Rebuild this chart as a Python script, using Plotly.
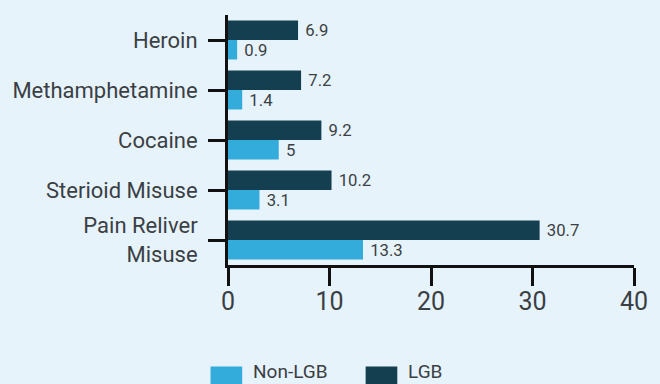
import plotly.graph_objects as go

categories = ["Heroin", "Methamphetamine", "Cocaine", "Sterioid Misuse", "Pain Reliver<br>Misuse"]
non_lgb = [0.9, 1.4, 5, 3.1, 13.3]
lgb = [6.9, 7.2, 9.2, 10.2, 30.7]
x_ticks = [0, 10, 20, 30, 40]

BG = "#e7f3fb"
DARK = "#133f51"
LIGHT = "#33acdb"
TXT = "#3a3f44"
AX = "#111111"
FONT = "Roboto"

fig = go.Figure()
fig.add_trace(go.Bar(
    y=categories, x=non_lgb, orientation="h", name="Non-LGB",
    marker=dict(color=LIGHT, line=dict(width=0)),
    text=[" " + str(v) for v in non_lgb], textposition="outside",
    textfont=dict(family=FONT, size=18, color=TXT), cliponaxis=False,
    showlegend=False, hoverinfo="skip",
))
fig.add_trace(go.Bar(
    y=categories, x=lgb, orientation="h", name="LGB",
    marker=dict(color=DARK, line=dict(width=0)),
    text=[" " + str(v) for v in lgb], textposition="outside",
    textfont=dict(family=FONT, size=18, color=TXT), cliponaxis=False,
    showlegend=False, hoverinfo="skip",
))

fig.update_layout(
    width=660, height=384,
    paper_bgcolor=BG, plot_bgcolor=BG,
    margin=dict(l=228, r=21, t=15, b=119),
    barmode="group", bargap=0.22, bargroupgap=0,
    font=dict(family=FONT, color=TXT),
)
fig.update_xaxes(
    range=[0, 40], tickvals=x_ticks, ticktext=[str(v) for v in x_ticks],
    showgrid=False, zeroline=False,
    showline=True, linewidth=3, linecolor=AX,
    ticks="outside", ticklen=18, tickwidth=3, tickcolor=AX,
    tickfont=dict(family=FONT, size=25, color=TXT),
    ticklabelstandoff=-6,
)
fig.update_yaxes(
    categoryorder="array", categoryarray=categories[::-1],
    range=[-0.5, 4.5],
    showgrid=False, zeroline=False,
    showline=True, linewidth=3, linecolor=AX,
    ticks="outside", ticklen=17, tickwidth=3, tickcolor=AX,
    tickfont=dict(family=FONT, size=22, color=TXT),
    ticklabelstandoff=6,
)

# legend drawn as keys below the plot
legend_items = [("Non-LGB", LIGHT, 0.0), ("LGB", DARK, 0.382)]
for label, color, dx in legend_items:
    x0 = -0.043 + dx
    fig.add_shape(type="rect", xref="paper", yref="paper",
                  x0=x0, x1=x0 + 0.078, y0=-0.52, y1=-0.406,
                  fillcolor=color, line=dict(width=0))
    fig.add_annotation(xref="paper", yref="paper", x=x0 + 0.1, y=-0.425,
                       text=label, showarrow=False, xanchor="left", yanchor="middle",
                       font=dict(family=FONT, size=19, color=TXT))

fig.write_html(
    "out.html",
    config={"displayModeBar": False},
    post_script="document.body.style.margin='0';document.body.style.background='%s';" % BG,
)
